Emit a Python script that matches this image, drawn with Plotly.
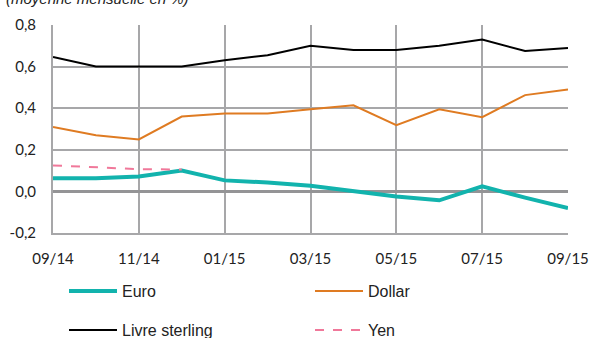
import plotly.graph_objects as go

# Monthly observations, September 2014 to September 2015
months = ["09/14", "10/14", "11/14", "12/14", "01/15", "02/15", "03/15",
          "04/15", "05/15", "06/15", "07/15", "08/15", "09/15"]

euro = [0.063, 0.063, 0.072, 0.100, 0.053, 0.043, 0.027,
        0.000, -0.024, -0.043, 0.024, -0.030, -0.080]
dollar = [0.31, 0.27, 0.25, 0.36, 0.375, 0.375, 0.395,
          0.414, 0.318, 0.395, 0.357, 0.463, 0.49]
sterling = [0.646, 0.60, 0.60, 0.60, 0.63, 0.655, 0.70,
            0.68, 0.68, 0.70, 0.73, 0.675, 0.69]
yen = [0.125, 0.115, 0.107, 0.105, None, None, None,
       None, None, None, None, None, None]

x_ticks = ["09/14", "11/14", "01/15", "03/15", "05/15", "07/15", "09/15"]
y_ticks = [-0.2, 0.0, 0.2, 0.4, 0.6, 0.8]
y_tick_labels = ["-0,2", "0,0", "0,2", "0,4", "0,6", "0,8"]

fig = go.Figure()
fig.add_trace(go.Scatter(x=months, y=euro, name="Euro", mode="lines", legend="legend",
                         line=dict(color="#12b3ad", width=4)))
fig.add_trace(go.Scatter(x=months, y=dollar, name="Dollar", mode="lines", legend="legend",
                         line=dict(color="#df7b22", width=2)))
fig.add_trace(go.Scatter(x=months, y=sterling, name="Livre sterling", mode="lines",
                         legend="legend2", line=dict(color="#000000", width=2)))
fig.add_trace(go.Scatter(x=months, y=yen, name="Yen", mode="lines", legend="legend2",
                         line=dict(color="#f0789a", width=2, dash="dash")))

grid = "#a7a7a9"
legend_font = dict(family="Liberation Sans, Arial", size=16, color="#222222")
W, H = 592, 338
plot_w = W - 53 - 24
plot_h = H - 25 - 105


def legend_row(center_px):
    # one-row horizontal legend, row centred at a given height of the page
    return dict(orientation="h", x=(64 - 53) / plot_w, xanchor="left",
                yref="container", y=1 - center_px / H, yanchor="middle",
                entrywidth=183, entrywidthmode="pixels", itemwidth=48,
                font=legend_font, bgcolor="rgba(0,0,0,0)")


fig.update_layout(
    width=W, height=H,
    margin=dict(l=53, r=24, t=25, b=105),
    paper_bgcolor="white", plot_bgcolor="white",
    showlegend=True,
    legend=legend_row(291),
    legend2=legend_row(330),
    annotations=[dict(text="(moyenne mensuelle en %)", xref="paper", yref="paper",
                      x=-0.095, y=1 + 16 / plot_h, xanchor="left", yanchor="bottom",
                      showarrow=False,
                      font=dict(family="Liberation Sans, Arial", size=15,
                                color="#222222", style="italic"))],
)
fig.update_xaxes(
    type="category", range=[0, 12], automargin=False,
    tickmode="array", tickvals=x_ticks, ticktext=x_ticks,
    showgrid=True, gridcolor=grid, gridwidth=2,
    showline=True, linecolor=grid, linewidth=2,
    ticks="", ticklabelstandoff=11,
    tickfont=dict(family="Lato", size=15, color="#222222"),
)
fig.update_yaxes(
    range=[-0.2, 0.8], automargin=False,
    tickmode="array", tickvals=y_ticks, ticktext=y_tick_labels,
    showgrid=True, gridcolor=grid, gridwidth=2,
    showline=True, linecolor=grid, linewidth=2,
    zeroline=True, zerolinecolor="#949496", zerolinewidth=3,
    ticks="", ticklabelstandoff=12,
    tickfont=dict(family="Lato", size=15, color="#222222"),
)

fig.write_html("out.html")
